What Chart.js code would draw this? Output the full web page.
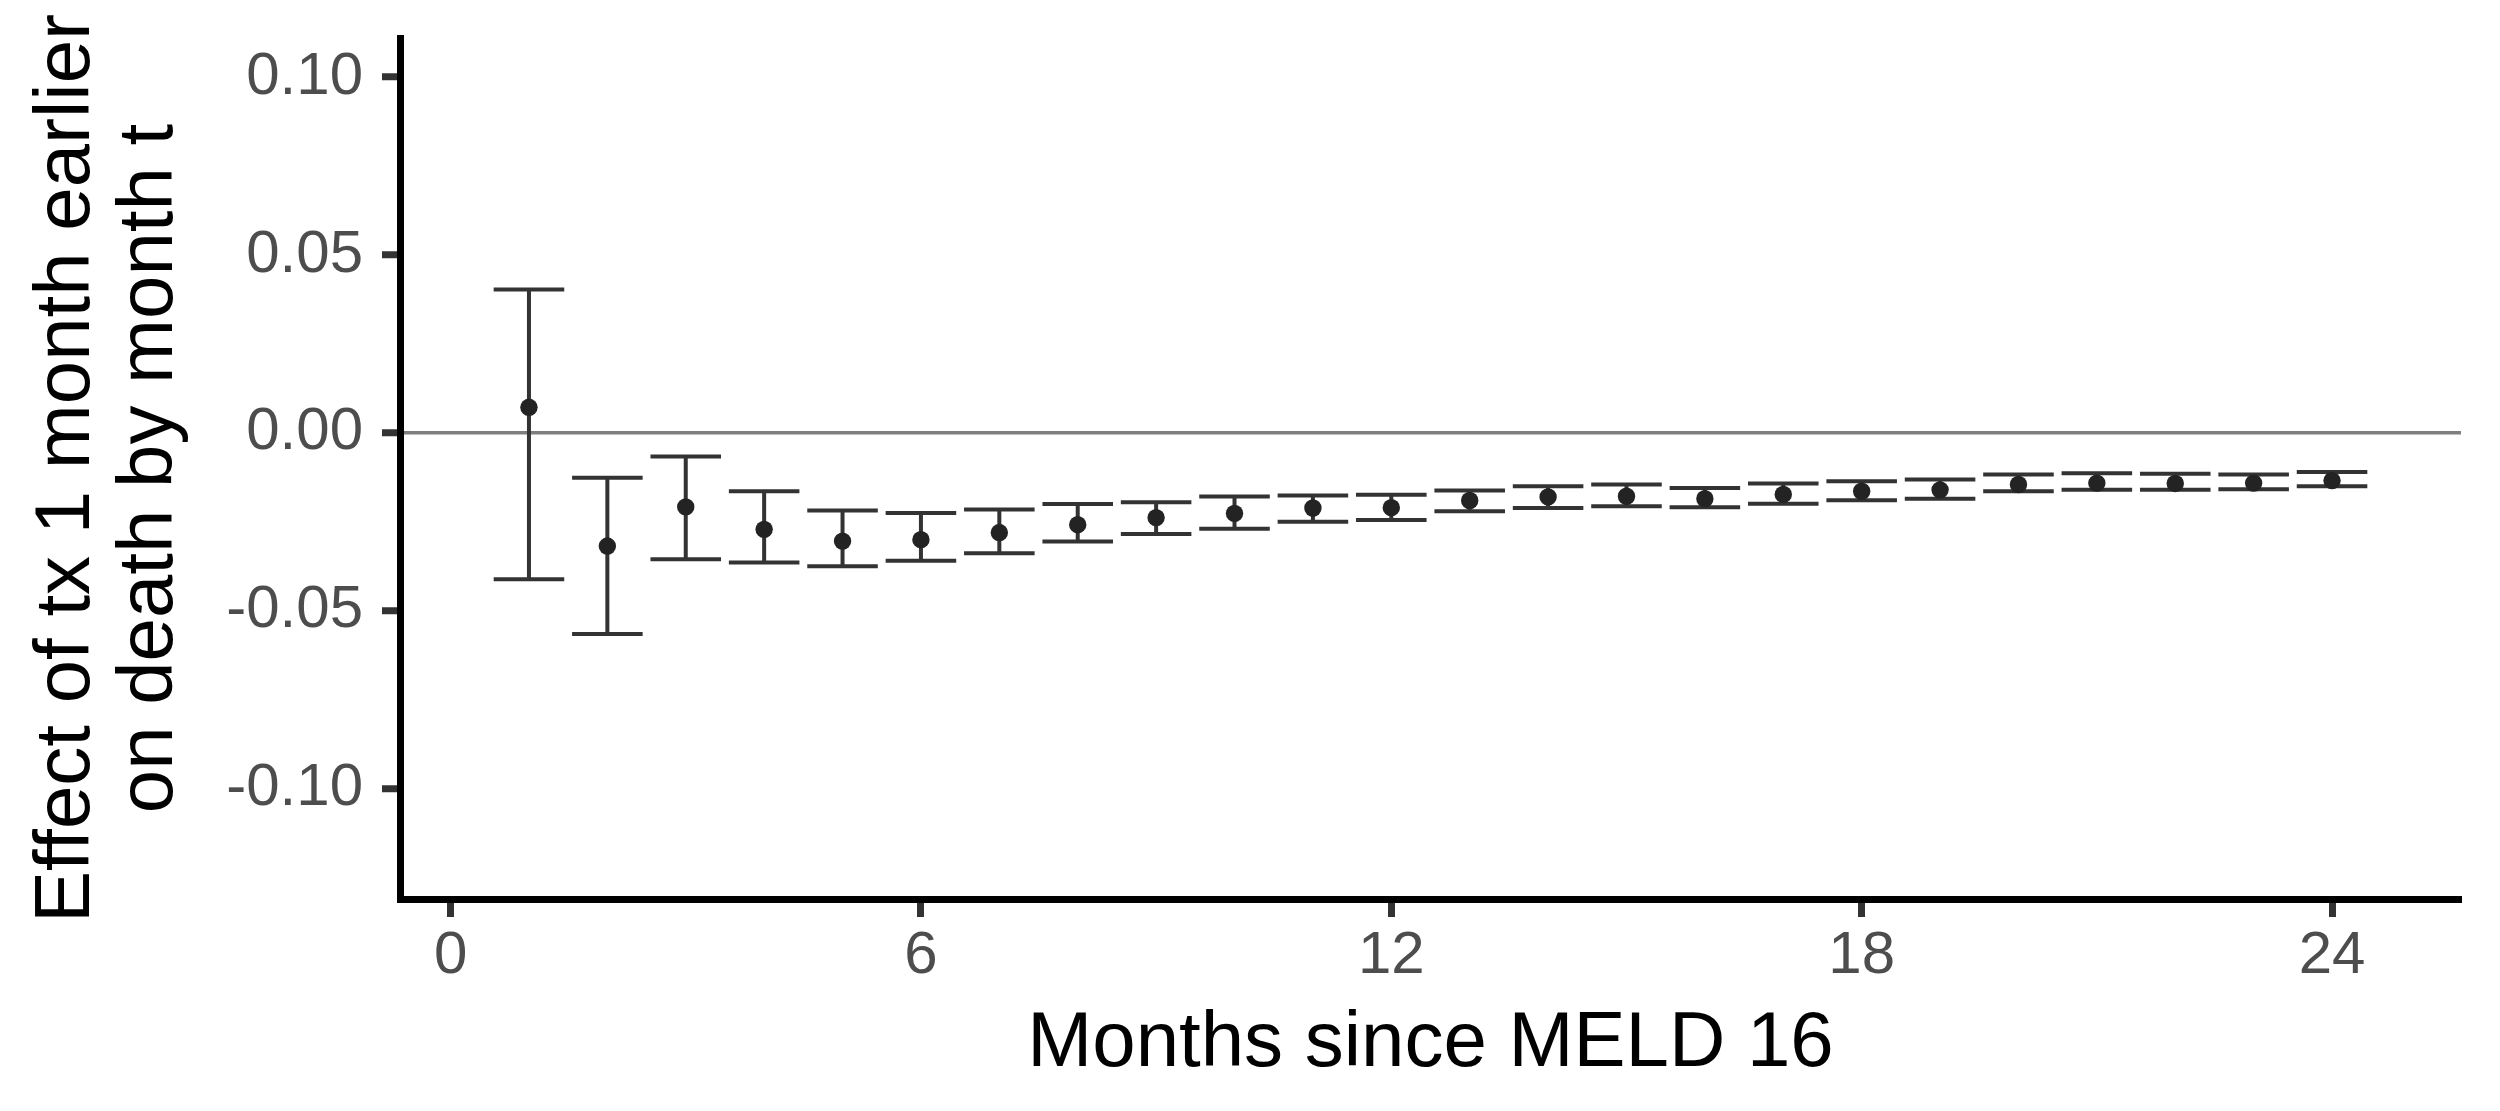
<!DOCTYPE html>
<html>
<head>
<meta charset="utf-8">
<title>Effect of earlier transplant</title>
<script src="https://cdn.jsdelivr.net/npm/chart.js@4.4.1/dist/chart.umd.min.js"></script>
<style>
  body { margin: 0; background: #ffffff; }
  #chart { display: block; }
</style>
</head>
<body>
<canvas id="chart" width="2500" height="1111"></canvas>
<script>
// months since MELD 16
const months = [1, 2, 3, 4, 5, 6, 7, 8, 9, 10, 11, 12, 13, 14, 15, 16, 17, 18, 19, 20, 21, 22, 23, 24];

// point estimates and confidence limits
const estimate = [0.0072, -0.0318, -0.0208, -0.0271, -0.0304, -0.0300, -0.0280, -0.0258, -0.0238, -0.0226, -0.0211, -0.0210,
                  -0.0190, -0.0180, -0.0178, -0.0185, -0.0173, -0.0164, -0.0160, -0.0145, -0.0141, -0.0142, -0.0141, -0.0134];
const upper = [0.0403, -0.0126, -0.0066, -0.0164, -0.0218, -0.0225, -0.0215, -0.0200, -0.0195, -0.0179, -0.0176, -0.0174,
               -0.0162, -0.0150, -0.0145, -0.0155, -0.0142, -0.0136, -0.0131, -0.0117, -0.0113, -0.0115, -0.0117, -0.0110];
const lower = [-0.0411, -0.0565, -0.0355, -0.0364, -0.0375, -0.0359, -0.0338, -0.0305, -0.0284, -0.0269, -0.0250, -0.0245,
               -0.0220, -0.0211, -0.0206, -0.0209, -0.0199, -0.0189, -0.0185, -0.0164, -0.0160, -0.0160, -0.0158, -0.0150];

const xTicks = [0, 6, 12, 18, 24];
const yTicks = [-0.10, -0.05, 0.00, 0.05, 0.10];

const capWidth = 0.9; // error bar width in months
const fontFamily = "'Liberation Sans', Arial, Helvetica, sans-serif";

// draws the confidence intervals using the chart's scales
const errorBars = {
    id: 'errorBars',
    beforeDatasetsDraw(chart) {
        const { ctx, scales: { x, y } } = chart;
        ctx.save();
        ctx.strokeStyle = '#333333';
        ctx.lineWidth = 4;
        ctx.lineCap = 'butt';
        months.forEach((m, i) => {
            const px = x.getPixelForValue(m);
            const left = x.getPixelForValue(m - capWidth / 2);
            const right = x.getPixelForValue(m + capWidth / 2);
            const top = y.getPixelForValue(upper[i]);
            const bottom = y.getPixelForValue(lower[i]);
            ctx.beginPath();
            ctx.moveTo(px, top);
            ctx.lineTo(px, bottom);
            ctx.moveTo(left, top);
            ctx.lineTo(right, top);
            ctx.moveTo(left, bottom);
            ctx.lineTo(right, bottom);
            ctx.stroke();
        });
        ctx.restore();
    }
};

// keep the tick labels from pushing the plot area around
function noLabelPadding(scale) {
    scale.paddingTop = 0;
    scale.paddingBottom = 0;
    scale.paddingLeft = 0;
    scale.paddingRight = 0;
}

const ctx = document.getElementById('chart').getContext('2d');
new Chart(ctx, {
    type: 'scatter',
    data: {
        datasets: [{
            label: 'Estimate',
            data: months.map((m, i) => ({ x: m, y: estimate[i] })),
            backgroundColor: '#232323',
            borderColor: '#232323',
            borderWidth: 0,
            pointRadius: 8.7,
            pointHoverRadius: 8.7
        }]
    },
    options: {
        responsive: false,
        animation: false,
        devicePixelRatio: 1,
        layout: { padding: { top: 38, right: 39, left: 0, bottom: 0 } },
        plugins: {
            legend: { display: false },
            tooltip: { enabled: false }
        },
        scales: {
            x: {
                type: 'linear',
                min: -0.645,
                max: 25.645,
                afterFit(scale) { scale.height = 212; noLabelPadding(scale); },
                afterBuildTicks(scale) { scale.ticks = xTicks.map(v => ({ value: v })); },
                border: { display: true, color: '#000000', width: 7 },
                grid: {
                    display: true,
                    drawOnChartArea: false,
                    drawTicks: true,
                    tickLength: 18,
                    tickColor: '#333333',
                    tickWidth: 7
                },
                ticks: {
                    color: '#4d4d4d',
                    padding: 3,
                    font: { family: fontFamily, size: 60 },
                    maxRotation: 0,
                    callback: v => String(v)
                },
                title: {
                    display: true,
                    text: 'Months since MELD 16',
                    color: '#000000',
                    font: { family: fontFamily, size: 78, lineHeight: 1.2 },
                    padding: { top: 0, bottom: 20 }
                }
            },
            y: {
                type: 'linear',
                min: -0.131,
                max: 0.111,
                afterFit(scale) { scale.width = 400; noLabelPadding(scale); },
                afterBuildTicks(scale) { scale.ticks = yTicks.map(v => ({ value: v })); },
                border: { display: true, color: '#000000', width: 7 },
                grid: {
                    display: true,
                    drawOnChartArea: true,
                    drawTicks: true,
                    tickLength: 18,
                    tickColor: '#333333',
                    tickWidth: 7,
                    lineWidth: 3.5,
                    color: c => (c.tick && c.tick.value === 0 ? '#7f7f7f' : 'rgba(0,0,0,0)')
                },
                ticks: {
                    color: '#4d4d4d',
                    padding: 19,
                    font: { family: fontFamily, size: 60 },
                    callback: v => v.toFixed(2)
                },
                title: {
                    display: true,
                    text: ['Effect of tx 1 month earlier', 'on death by month t'],
                    color: '#000000',
                    font: { family: fontFamily, size: 78, lineHeight: 1.06 },
                    padding: { top: 26, bottom: 0 }
                }
            }
        }
    },
    plugins: [errorBars]
});
</script>
</body>
</html>
